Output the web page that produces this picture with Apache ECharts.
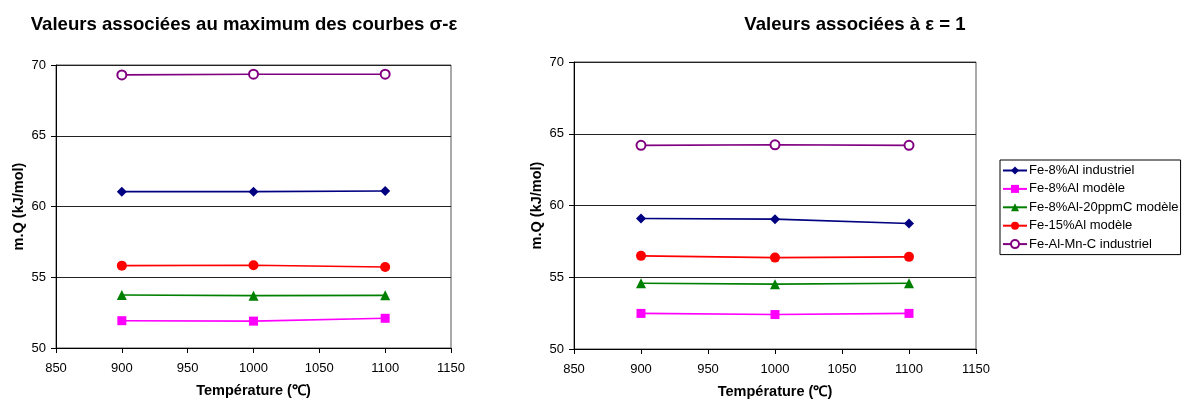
<!DOCTYPE html>
<html><head><meta charset="utf-8">
<script src="https://cdn.jsdelivr.net/npm/echarts@6/dist/echarts.min.js"></script>
<style>html,body{margin:0;padding:0;background:#fff}#c{width:1184px;height:401px}</style>
</head><body><div id="c"></div>
<script>
const temperatures = [900, 1000, 1100];
const seriesNames = ['Fe-8%Al industriel', 'Fe-8%Al modèle', 'Fe-8%Al-20ppmC modèle', 'Fe-15%Al modèle', 'Fe-Al-Mn-C industriel'];
// Left chart: values at the maximum of sigma-epsilon curves
const maxFe8Ind = [61.05, 61.05, 61.1];
const maxFe8Mod = [51.93, 51.9, 52.1];
const maxFe8C = [53.75, 53.7, 53.72];
const maxFe15 = [55.82, 55.85, 55.72];
const maxFeAlMnC = [69.3, 69.35, 69.35];
// Right chart: values at epsilon = 1
const epsFe8Ind = [59.09, 59.05, 58.75];
const epsFe8Mod = [52.48, 52.4, 52.48];
const epsFe8C = [54.58, 54.52, 54.58];
const epsFe15 = [56.49, 56.37, 56.42];
const epsFeAlMnC = [64.19, 64.23, 64.19];
const xTicks = {min: 850, max: 1150, interval: 50};
const yTicks = {min: 50, max: 70, interval: 5};

const colors = ['#000080', '#FF00FF', '#008000', '#FF0000', '#800080'];
const symbols = ['diamond', 'rect', 'triangle', 'circle', 'emptyCircle'];
const sizes = [10, 9, 10, 10, 9];
const font = 'Liberation Sans, Arial, sans-serif';

function mk(name, vals, i, gi) {
  return {
    name: name, type: 'line', xAxisIndex: gi, yAxisIndex: gi,
    data: temperatures.map((t, k) => [t, vals[k]]),
    symbol: symbols[i], symbolSize: sizes[i],
    lineStyle: {color: colors[i], width: 1.6},
    itemStyle: {color: colors[i], borderWidth: i === 4 ? 1 : 0},
    emphasis: {disabled: true}, animation: false
  };
}
const leftSets = [maxFe8Ind, maxFe8Mod, maxFe8C, maxFe15, maxFeAlMnC];
const rightSets = [epsFe8Ind, epsFe8Mod, epsFe8C, epsFe15, epsFeAlMnC];
const series = [];
leftSets.forEach((v, i) => series.push(mk(seriesNames[i], v, i, 0)));
rightSets.forEach((v, i) => series.push(mk(seriesNames[i], v, i, 1)));

function xAx(gi) {
  return {
    type: 'value', gridIndex: gi, min: xTicks.min, max: xTicks.max, interval: xTicks.interval,
    name: 'Température (℃)', nameLocation: 'middle', nameGap: 35,
    nameTextStyle: {fontFamily: font, fontWeight: 'bold', fontSize: 14.5, color: '#000'},
    axisLine: {lineStyle: {color: '#000', width: 1}},
    axisTick: {show: true, length: 5, lineStyle: {color: '#000'}},
    axisLabel: {fontFamily: font, fontSize: 13, color: '#000', margin: 14, formatter: v => String(v)},
    splitLine: {show: false}
  };
}
function yAx(gi) {
  return {
    type: 'value', gridIndex: gi, min: yTicks.min, max: yTicks.max, interval: yTicks.interval,
    name: 'm.Q (kJ/mol)', nameLocation: 'middle', nameGap: 30,
    nameTextStyle: {fontFamily: font, fontWeight: 'bold', fontSize: 14.5, color: '#000'},
    axisLine: {show: true, lineStyle: {color: '#000', width: 1}},
    axisTick: {show: true, length: 5, lineStyle: {color: '#000'}},
    axisLabel: {fontFamily: font, fontSize: 13, color: '#000', margin: 10, formatter: v => String(v)},
    splitLine: {show: true, lineStyle: {color: '#222', width: 1}}
  };
}

const chart = echarts.init(document.getElementById('c'), null, {renderer: 'canvas'});
chart.setOption({
  animation: false,
  backgroundColor: '#fff',
  title: [
    {text: 'Valeurs associées au maximum des courbes σ-ε', left: 239, top: 10, textAlign: 'center',
     textStyle: {fontFamily: font, fontWeight: 'bold', fontSize: 18.6, color: '#000'}},
    {text: 'Valeurs associées à ε = 1', left: 850, top: 10, textAlign: 'center',
     textStyle: {fontFamily: font, fontWeight: 'bold', fontSize: 18.6, color: '#000'}}
  ],
  grid: [
    {left: 56, top: 65, width: 395, height: 283, outerBoundsMode: 'none', containLabel: false,
     show: true, borderColor: '#555', borderWidth: 1, backgroundColor: 'transparent'},
    {left: 574, top: 62, width: 402, height: 287, outerBoundsMode: 'none', containLabel: false,
     show: true, borderColor: '#555', borderWidth: 1, backgroundColor: 'transparent'}
  ],
  xAxis: [xAx(0), xAx(1)],
  yAxis: [yAx(0), yAx(1)],
  legend: {
    data: seriesNames, orient: 'vertical', left: 1000, top: 160,
    itemWidth: 24, itemHeight: 10, itemGap: 5.4,
    padding: [4, 2, 4, 2], borderColor: '#000', borderWidth: 1, backgroundColor: '#fff',
    textStyle: {fontFamily: font, fontSize: 13, color: '#000', padding: [0, 0, 0, -3]},
    selectedMode: false
  },
  series: series
});
</script></body></html>
